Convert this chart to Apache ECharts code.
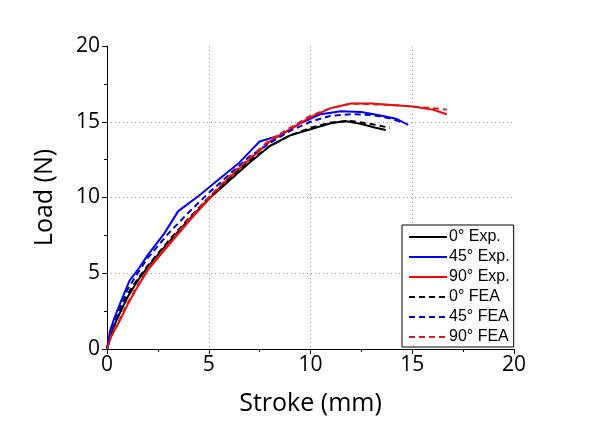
<!DOCTYPE html>
<html><head><meta charset="utf-8">
<script src="https://cdn.jsdelivr.net/npm/echarts@6/dist/echarts.min.js"></script>
<style>html,body{margin:0;padding:0;background:#fff}#c{width:600px;height:422px}</style>
</head><body><div id="c"></div>
<script>
// 0° Exp.
const x0Exp = [0, 0.2, 0.5, 1, 1.5, 2, 3, 4, 5, 6, 7, 8, 9, 10, 11, 11.7, 12.5, 13.2, 13.7];
const y0Exp = [0, 1.0, 2.0, 3.4, 4.5, 5.4, 7.0, 8.5, 9.9, 11.1, 12.3, 13.4, 14.1, 14.5, 14.9, 15.05, 14.85, 14.6, 14.45];
// 45° Exp.
const x45Exp = [0, 0.15, 0.35, 0.7, 1.1, 1.5, 2, 2.8, 3.5, 4.5, 5.5, 6.5, 7.5, 8.5, 9.5, 10.5, 11.5, 12.5, 13.5, 14.2, 14.8];
const y45Exp = [0, 1.2, 2.0, 3.2, 4.5, 5.2, 6.2, 7.6, 9.1, 10.1, 11.2, 12.3, 13.7, 14.1, 14.9, 15.5, 15.7, 15.65, 15.4, 15.2, 14.8];
// 90° Exp.
const x90Exp = [0, 0.2, 0.6, 1, 1.5, 2, 3, 4, 5, 6, 7, 8, 9, 10, 11, 12, 13, 14, 15, 16, 16.7];
const y90Exp = [0, 0.8, 1.8, 2.9, 4.1, 5.2, 6.8, 8.4, 9.9, 11.3, 12.5, 13.7, 14.5, 15.3, 15.9, 16.2, 16.2, 16.1, 16.0, 15.8, 15.5];
// 0° FEA
const x0FEA = [0, 0.2, 0.5, 1, 1.5, 2, 3, 4, 5, 6, 7, 8, 9, 10, 11, 12, 13, 13.9];
const y0FEA = [0, 1.1, 2.2, 3.6, 4.6, 5.5, 7.1, 8.6, 10.0, 11.2, 12.4, 13.4, 14.1, 14.6, 14.95, 15.05, 14.85, 14.6];
// 45° FEA
const x45FEA = [0, 0.2, 0.5, 1, 1.5, 2, 3, 4, 5, 6, 7, 8, 9, 10, 11, 12, 13, 14, 14.4];
const y45FEA = [0, 1.2, 2.3, 3.9, 5.0, 6.0, 7.6, 9.0, 10.3, 11.5, 12.7, 13.6, 14.4, 15.0, 15.4, 15.5, 15.45, 15.2, 15.0];
// 90° FEA
const x90FEA = [0, 0.2, 0.6, 1, 1.5, 2, 3, 4, 5, 6, 7, 8, 9, 10, 11, 12, 13, 14, 15, 16, 16.7];
const y90FEA = [0, 0.9, 1.9, 3.0, 4.2, 5.3, 6.9, 8.5, 10.0, 11.4, 12.6, 13.8, 14.6, 15.4, 15.9, 16.2, 16.15, 16.1, 16.0, 15.9, 15.8];

const names = ['0° Exp.', '45° Exp.', '90° Exp.', '0° FEA', '45° FEA', '90° FEA'];
const xs = [x0Exp, x45Exp, x90Exp, x0FEA, x45FEA, x90FEA];
const ys = [y0Exp, y45Exp, y90Exp, y0FEA, y45FEA, y90FEA];
const colors = ['#000000', '#0000ff', '#ff0000', '#000000', '#0000cc', '#cc2222'];
const dashed = [false, false, false, true, true, true];

const chart = echarts.init(document.getElementById('c'), null, {renderer: 'canvas'});
const axisFont = {fontFamily: 'Open Sans', fontSize: 21, color: '#000'};
const series = names.map((n, i) => ({
  name: n, type: 'line', showSymbol: false, symbol: 'none',
  data: xs[i].map((x, j) => [x, ys[i][j]]),
  lineStyle: {color: colors[i], width: 2, type: dashed[i] ? [6, 4] : 'solid'},
  itemStyle: {color: colors[i]},
  z: dashed[i] ? 3 : 2
}));
chart.setOption({
  animation: false,
  backgroundColor: '#fff',
  grid: {left: 107, right: 86, top: 46, bottom: 73},
  xAxis: {
    type: 'value', min: 0, max: 20, interval: 5,
    name: 'Stroke (mm)', nameLocation: 'middle', nameGap: 42,
    nameTextStyle: {fontFamily: 'Open Sans', fontSize: 25, color: '#000'},
    axisLine: {show: true, onZero: false, lineStyle: {color: '#000', width: 1}},
    axisTick: {show: true, length: 5, lineStyle: {color: '#000'}},
    minorTick: {show: true, splitNumber: 2, length: 3, lineStyle: {color: '#000'}},
    axisLabel: Object.assign({margin: 6}, axisFont),
    splitLine: {show: true, showMinLine: false, showMaxLine: false, lineStyle: {color: '#999', type: [1, 3], width: 1}}
  },
  yAxis: {
    type: 'value', min: 0, max: 20, interval: 5,
    name: 'Load (N)', nameLocation: 'middle', nameGap: 50,
    nameTextStyle: {fontFamily: 'Open Sans', fontSize: 25, color: '#000'},
    axisLine: {show: true, onZero: false, lineStyle: {color: '#000', width: 1}},
    axisTick: {show: true, length: 5, lineStyle: {color: '#000'}},
    minorTick: {show: true, splitNumber: 2, length: 3, lineStyle: {color: '#000'}},
    axisLabel: Object.assign({margin: 7}, axisFont),
    splitLine: {show: true, showMinLine: false, showMaxLine: false, lineStyle: {color: '#999', type: [1, 3], width: 1}}
  },
  legend: {
    orient: 'vertical', left: 402, top: 225,
    backgroundColor: '#fff', borderColor: '#000', borderWidth: 1, borderRadius: 0,
    padding: [4, 4, 2, 6], itemGap: 4, itemWidth: 38, itemHeight: 14,
    itemStyle: {opacity: 0},
    textStyle: {fontFamily: 'Liberation Sans', fontSize: 16, color: '#000', padding: [0, 0, 0, -3]},
    data: names
  },
  series: series
});
</script></body></html>
